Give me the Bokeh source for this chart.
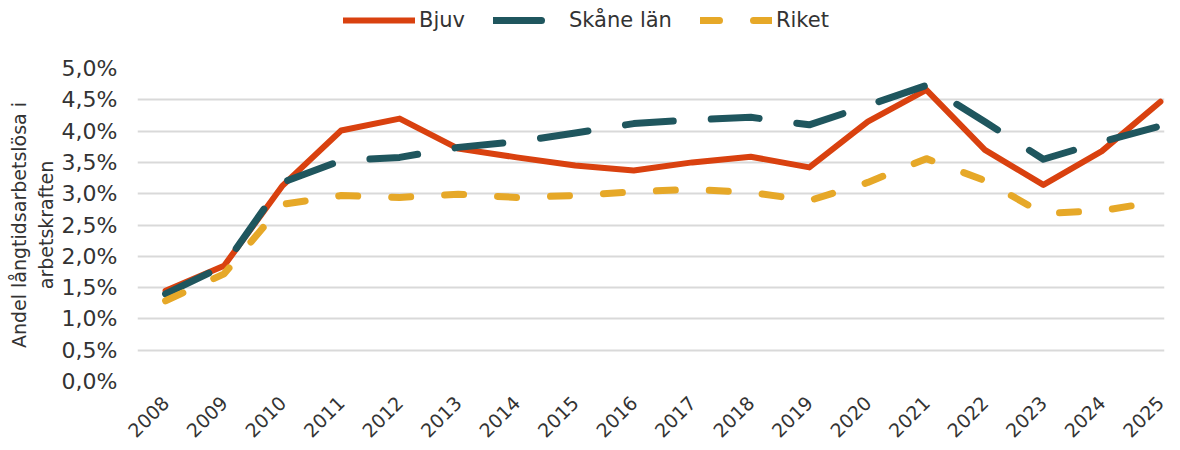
import math
from bokeh.plotting import figure
from bokeh.layouts import column
from bokeh.models import FixedTicker, CustomJSTickFormatter, Legend, LegendItem
from bokeh.embed import file_html
from bokeh.resources import INLINE

years = list(range(2008, 2026))
bjuv = [1.45, 1.85, 3.13, 4.01, 4.20, 3.72, 3.58, 3.45, 3.37, 3.50, 3.59, 3.42, 4.15, 4.66, 3.70, 3.14, 3.68, 4.47]
skane = [1.40, 1.85, 3.18, 3.53, 3.58, 3.74, 3.83, 3.97, 4.12, 4.18, 4.22, 4.10, 4.41, 4.73, 4.15, 3.55, 3.83, 4.08]
riket = [1.29, 1.72, 2.83, 2.97, 2.94, 2.99, 2.94, 2.97, 3.03, 3.07, 3.02, 2.89, 3.18, 3.56, 3.21, 2.68, 2.73, 2.88]
y_ticks = [0.0, 0.5, 1.0, 1.5, 2.0, 2.5, 3.0, 3.5, 4.0, 4.5, 5.0]
series_names = ["Bjuv", "Skåne län", "Riket"]

FONT = "DejaVu Sans"
TXT = "#333333"
COLORS = ["#D9410F", "#1F565E", "#E6A828"]
WIDTHS = [6, 7, 7]
DASHES = ["solid", "48 38", "19 34"]

# ---- main chart
p = figure(width=1172, height=410, output_backend="svg", toolbar_location=None,
           x_range=(2007.52, 2025.07), y_range=(0, 5.0),
           min_border_left=137, min_border_right=8, min_border_top=28, min_border_bottom=69)
p.outline_line_color = None
p.background_fill_color = "white"

for ys, c, w, d in zip([bjuv, skane, riket], COLORS, WIDTHS, DASHES):
    p.line(years, ys, line_color=c, line_width=w, line_cap="round", line_join="round", line_dash=d)

p.xgrid.grid_line_color = None
p.ygrid.grid_line_color = "#d9d9d9"
p.ygrid.grid_line_width = 2
p.ygrid.ticker = FixedTicker(ticks=y_ticks)

p.yaxis.ticker = FixedTicker(ticks=y_ticks)
p.yaxis.formatter = CustomJSTickFormatter(code="return tick.toFixed(1).replace('.', ',') + '%';")
p.yaxis.axis_line_color = None
p.yaxis.major_tick_line_color = None
p.yaxis.minor_tick_line_color = None
p.yaxis.major_tick_out = 0
p.yaxis.major_tick_in = 0
p.yaxis.major_label_text_font = FONT
p.yaxis.major_label_text_font_size = "22px"
p.yaxis.major_label_text_color = TXT
p.yaxis.major_label_standoff = 20
p.yaxis.axis_label = "Andel långtidsarbetslösa i\narbetskraften"
p.yaxis.axis_label_text_font = FONT
p.yaxis.axis_label_text_font_style = "normal"
p.yaxis.axis_label_text_font_size = "19px"
p.yaxis.axis_label_text_color = TXT
p.yaxis.axis_label_standoff = 2

p.xaxis.ticker = FixedTicker(ticks=years)
p.xaxis.formatter = CustomJSTickFormatter(code="return tick.toFixed(0);")
p.xaxis.axis_line_color = None
p.xaxis.major_tick_line_color = None
p.xaxis.minor_tick_line_color = None
p.xaxis.major_tick_out = 0
p.xaxis.major_tick_in = 0
p.xaxis.major_label_orientation = math.pi / 4
p.xaxis.major_label_text_font = FONT
p.xaxis.major_label_text_font_size = "19px"
p.xaxis.major_label_text_color = TXT
p.xaxis.major_label_standoff = 18

# ---- legend strip on top
lg = figure(width=1172, height=40, output_backend="svg", toolbar_location=None,
            x_range=(0, 1), y_range=(0, 1), x_axis_type=None, y_axis_type=None,
            min_border_left=0, min_border_right=0, min_border_top=0, min_border_bottom=0)
lg.outline_line_color = None
lg.xgrid.visible = False
lg.ygrid.visible = False
items = []
for name, c, w, d in zip(series_names, COLORS, WIDTHS, DASHES):
    r = lg.line(x=[float("nan")], y=[float("nan")], line_color=c, line_width=w,
                line_cap="round", line_dash=d)
    items.append(LegendItem(label=name, renderers=[r]))
legend = Legend(items=items, orientation="horizontal", location=(206, 8),
                glyph_width=72, glyph_height=24, label_standoff=4, spacing=28,
                label_text_font=FONT, label_text_font_size="21px", label_text_color=TXT,
                background_fill_alpha=0, border_line_color=None, padding=0, margin=0)
lg.add_layout(legend, "center")

layout = column(lg, p, spacing=0)
open("out.html", "w").write(file_html(layout, INLINE))
